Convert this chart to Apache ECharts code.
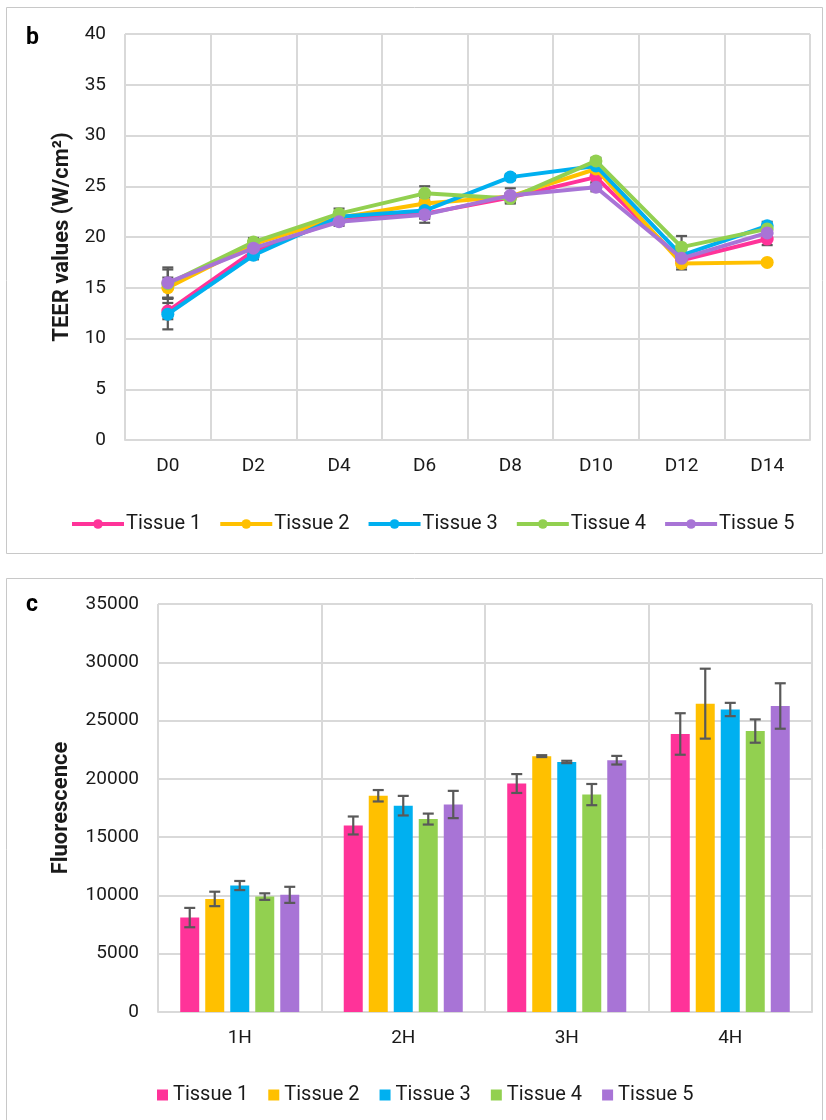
<!DOCTYPE html>
<html>
<head>
<meta charset="utf-8">
<script src="https://cdn.jsdelivr.net/npm/echarts@6/dist/echarts.min.js"></script>
<style>
  html, body { margin: 0; padding: 0; background: #fff; }
  #chart { width: 826px; height: 1120px; }
</style>
</head>
<body>
<div id="chart"></div>
<script>
// ---- Panel b: TEER over days ----
const days = ['D0', 'D2', 'D4', 'D6', 'D8', 'D10', 'D12', 'D14'];
const tissueNames = ['Tissue 1', 'Tissue 2', 'Tissue 3', 'Tissue 4', 'Tissue 5'];
const tissueColors = ['#FF3399', '#FFC000', '#00B0F0', '#92D050', '#A874D6'];

const teerTissue1 = [12.7, 18.6, 21.7, 22.3, 23.9, 25.9, 17.7, 19.8];
const teerTissue2 = [15.0, 19.3, 21.9, 23.3, 24.0, 26.7, 17.4, 17.5];
const teerTissue3 = [12.4, 18.2, 22.0, 22.6, 25.9, 27.0, 18.2, 21.1];
const teerTissue4 = [15.4, 19.5, 22.3, 24.3, 23.8, 27.5, 19.0, 20.8];
const teerTissue5 = [15.5, 18.9, 21.5, 22.2, 24.1, 24.9, 17.9, 20.4];

const teerErr1 = [0.8, 0.4, 0.3, 0.5, 0.4, 0.5, 0.6, 0.6];
const teerErr2 = [1.0, 0.3, 0.3, 0.6, 0.3, 0.4, 0.6, 0.2];
const teerErr3 = [1.5, 0.4, 0.4, 0.7, 0.3, 0.4, 0.6, 0.4];
const teerErr4 = [1.4, 0.4, 0.5, 0.7, 0.5, 0.3, 1.1, 0.4];
const teerErr5 = [1.5, 0.4, 0.4, 0.8, 0.7, 0.4, 0.8, 0.5];

const teerTicks = [0, 5, 10, 15, 20, 25, 30, 35, 40];

// ---- Panel c: fluorescence over hours ----
const hours = ['1H', '2H', '3H', '4H'];
const fluoTissue1 = [8100, 16000, 19600, 23850];
const fluoTissue2 = [9700, 18550, 21950, 26450];
const fluoTissue3 = [10850, 17700, 21450, 25950];
const fluoTissue4 = [9900, 16550, 18650, 24100];
const fluoTissue5 = [10050, 17800, 21600, 26250];

const fluoErr1 = [830, 770, 810, 1780];
const fluoErr2 = [620, 490, 80, 3000];
const fluoErr3 = [390, 840, 100, 570];
const fluoErr4 = [280, 470, 910, 1000];
const fluoErr5 = [690, 1170, 370, 1950];

const fluoTicks = [0, 5000, 10000, 15000, 20000, 25000, 30000, 35000];

const teerSeries = [teerTissue1, teerTissue2, teerTissue3, teerTissue4, teerTissue5];
const teerErrs = [teerErr1, teerErr2, teerErr3, teerErr4, teerErr5];
const fluoSeries = [fluoTissue1, fluoTissue2, fluoTissue3, fluoTissue4, fluoTissue5];
const fluoErrs = [fluoErr1, fluoErr2, fluoErr3, fluoErr4, fluoErr5];

const FONT = 'Roboto, "Liberation Sans", sans-serif';
const TEXT = '#1a1a1a';
const GRID = '#d9d9d9';
const ERR = '#595959';
const BAR_W = 19;
const BAR_GAP = 0.316;

// error bar drawn as a vertical stem with two caps
function errorBars(pxOffset) {
  return function (params, api) {
    const i = api.value(0), v = api.value(1), e = api.value(2);
    const top = api.coord([i, v + e]);
    const bot = api.coord([i, v - e]);
    const x = top[0] + pxOffset;
    const cap = 5.5;
    const style = { stroke: ERR, lineWidth: 2.2 };
    return {
      type: 'group',
      children: [
        { type: 'line', shape: { x1: x, y1: top[1], x2: x, y2: bot[1] }, style },
        { type: 'line', shape: { x1: x - cap, y1: top[1], x2: x + cap, y2: top[1] }, style },
        { type: 'line', shape: { x1: x - cap, y1: bot[1], x2: x + cap, y2: bot[1] }, style }
      ]
    };
  };
}

const series = [];

// line series with error bars (panel b)
teerSeries.forEach((vals, k) => {
  series.push({
    type: 'custom',
    xAxisIndex: 0, yAxisIndex: 0,
    z: 2,
    silent: true,
    renderItem: errorBars(0),
    encode: { x: 0, y: 1 },
    data: vals.map((v, i) => [i, v, teerErrs[k][i]])
  });
});
teerSeries.forEach((vals, k) => {
  series.push({
    name: tissueNames[k],
    type: 'line',
    xAxisIndex: 0, yAxisIndex: 0,
    z: 3 + k,
    data: vals,
    symbol: 'circle',
    symbolSize: 13,
    lineStyle: { width: 4, color: tissueColors[k] },
    itemStyle: { color: tissueColors[k] },
    animation: false
  });
});

// bar series with error bars (panel c)
fluoSeries.forEach((vals, k) => {
  series.push({
    name: tissueNames[k],
    type: 'bar',
    xAxisIndex: 1, yAxisIndex: 1,
    data: vals,
    barWidth: BAR_W,
    barGap: (BAR_GAP * 100) + '%',
    itemStyle: { color: tissueColors[k] },
    animation: false
  });
});
fluoSeries.forEach((vals, k) => {
  series.push({
    type: 'custom',
    xAxisIndex: 1, yAxisIndex: 1,
    z: 5,
    silent: true,
    renderItem: errorBars((k - 2) * BAR_W * (1 + BAR_GAP)),
    encode: { x: 0, y: 1 },
    data: vals.map((v, i) => [i, v, fluoErrs[k][i]])
  });
});

const axisLabel = { color: TEXT, fontSize: 19, fontFamily: FONT };

const option = {
  animation: false,
  backgroundColor: '#fff',
  grid: [
    { left: 125, right: 16, top: 34, height: 406 },
    { left: 158, right: 14, top: 604, height: 408 }
  ],
  xAxis: [
    {
      type: 'category', gridIndex: 0, data: days, boundaryGap: true,
      axisLine: { lineStyle: { color: GRID, width: 2 } },
      axisTick: { show: false },
      splitLine: { show: true, interval: 0, lineStyle: { color: GRID, width: 2 } },
      axisLabel: Object.assign({ margin: 17, interval: 0 }, axisLabel)
    },
    {
      type: 'category', gridIndex: 1, data: hours, boundaryGap: true,
      axisLine: { lineStyle: { color: GRID, width: 2 } },
      axisTick: { show: false },
      splitLine: { show: true, interval: 0, lineStyle: { color: GRID, width: 2 } },
      axisLabel: Object.assign({ margin: 17, interval: 0 }, axisLabel)
    }
  ],
  yAxis: [
    {
      type: 'value', gridIndex: 0,
      min: teerTicks[0], max: teerTicks[teerTicks.length - 1], interval: teerTicks[1] - teerTicks[0],
      axisLine: { show: false }, axisTick: { show: false },
      splitLine: { lineStyle: { color: GRID, width: 2 } },
      axisLabel: Object.assign({ margin: 19, formatter: v => String(v) }, axisLabel),
      name: 'TEER values (W/cm²)', nameLocation: 'middle', nameGap: 52, nameRotate: 90,
      nameTextStyle: { color: TEXT, fontSize: 22, fontWeight: 'bold', fontFamily: FONT }
    },
    {
      type: 'value', gridIndex: 1,
      min: fluoTicks[0], max: fluoTicks[fluoTicks.length - 1], interval: fluoTicks[1] - fluoTicks[0],
      axisLine: { show: false }, axisTick: { show: false },
      splitLine: { lineStyle: { color: GRID, width: 2 } },
      axisLabel: Object.assign({ margin: 19, formatter: v => String(v) }, axisLabel),
      name: 'Fluorescence', nameLocation: 'middle', nameGap: 86, nameRotate: 90,
      nameTextStyle: { color: TEXT, fontSize: 22, fontWeight: 'bold', fontFamily: FONT }
    }
  ],
  legend: [
    {
      data: tissueNames.map(n => ({ name: n })),
      top: 509, left: 65,
      itemWidth: 52, itemHeight: 12, itemGap: 17,
      lineStyle: { width: 4 },
      textStyle: { color: TEXT, fontSize: 20, fontFamily: FONT, padding: [0, 0, 0, -3] },
      selectedMode: false
    },
    {
      data: tissueNames.map(n => ({ name: n, icon: 'rect' })),
      top: 1080, left: 152,
      itemWidth: 11, itemHeight: 11, itemGap: 20,
      textStyle: { color: TEXT, fontSize: 20, fontFamily: FONT },
      selectedMode: false
    }
  ],
  graphic: [
    { type: 'rect', shape: { x: 6.5, y: 7.5, width: 816, height: 546 }, style: { fill: 'none', stroke: '#c8c8c8', lineWidth: 1 }, silent: true, z: -1 },
    { type: 'rect', shape: { x: 6.5, y: 578.5, width: 816, height: 560 }, style: { fill: 'none', stroke: '#c8c8c8', lineWidth: 1 }, silent: true, z: -1 },
    { type: 'text', left: 26, top: 27, style: { text: 'b', font: 'bold 23px Roboto, sans-serif', fill: '#000' } },
    { type: 'text', left: 26, top: 594, style: { text: 'c', font: 'bold 23px Roboto, sans-serif', fill: '#000' } }
  ],
  series
};

const chart = echarts.init(document.getElementById('chart'), null, { renderer: 'canvas' });
chart.setOption(option);
</script>
</body>
</html>
